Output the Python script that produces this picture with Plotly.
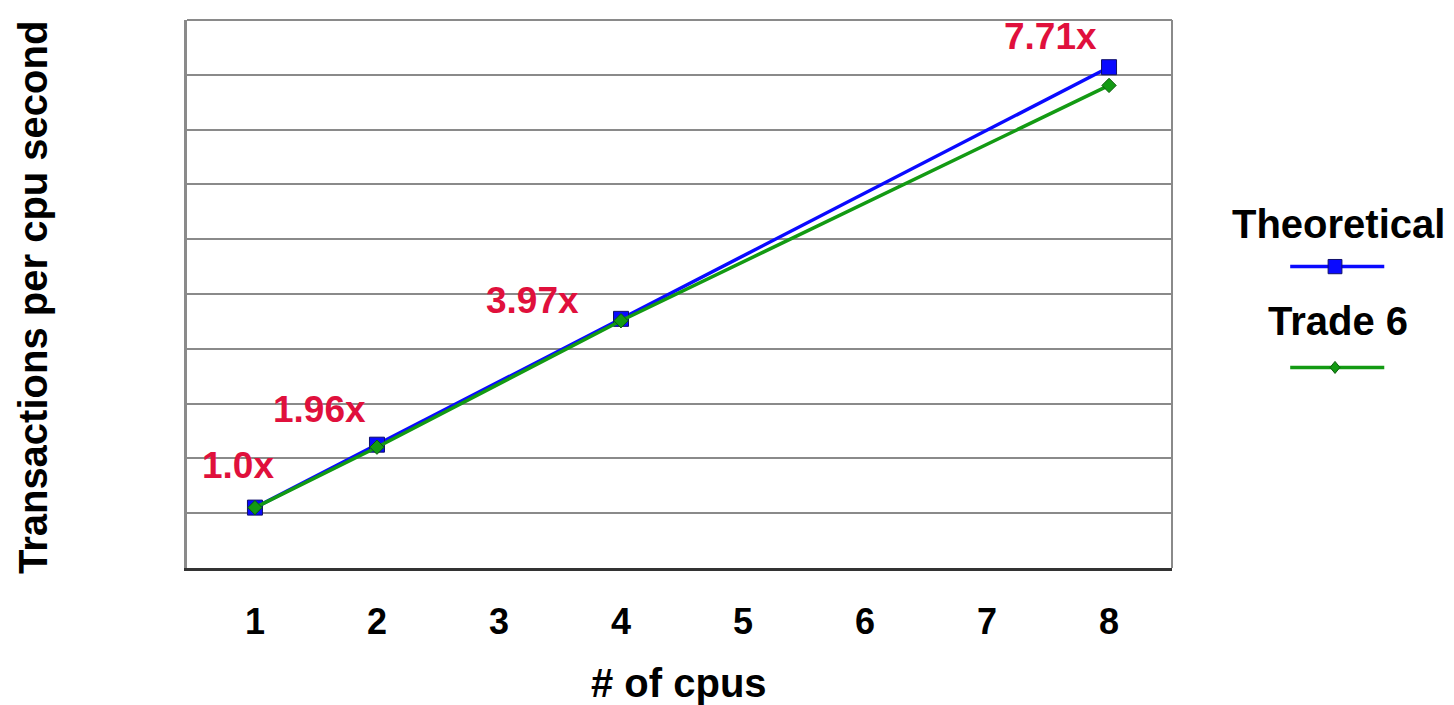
import plotly.graph_objects as go

# CPU scaling data
cpus = [1, 2, 4, 8]
theoretical = [1.0, 2.0, 4.0, 8.0]
trade6 = [1.0, 1.96, 3.97, 7.71]
speedup_labels = ["1.0x", "1.96x", "3.97x", "7.71x"]
x_ticks = [1, 2, 3, 4, 5, 6, 7, 8]

BLUE = "#0a0aff"
GREEN = "#139a13"
RED = "#e0103c"
FONT = "Liberation Sans, Arial, sans-serif"

fig = go.Figure()

fig.add_trace(go.Scatter(
    x=cpus, y=theoretical, mode="lines+markers", name="Theoretical",
    line=dict(color=BLUE, width=3.5),
    marker=dict(symbol="square", size=15, color=BLUE,
                line=dict(color="#10106a", width=1)),
    showlegend=False,
))
fig.add_trace(go.Scatter(
    x=cpus, y=trade6, mode="lines+markers", name="Trade 6",
    line=dict(color=GREEN, width=3.5),
    marker=dict(symbol="diamond", size=11, color=GREEN,
                line=dict(color="#0b5a0b", width=1)),
    showlegend=False,
))

# speedup labels next to the Trade 6 points
shifts = [(-17, 42), (-57, 38), (-89, 20), (-59, 49)]
for xv, yv, txt, (dx, dy) in zip(cpus, trade6, speedup_labels, shifts):
    fig.add_annotation(x=xv, y=yv, text=txt, showarrow=False,
                       xshift=dx, yshift=dy,
                       font=dict(family=FONT, size=37, color=RED, weight="bold"))

# axis titles
fig.add_annotation(xref="paper", yref="paper", x=-0.157, y=0.495,
                   text="Transactions per cpu second", textangle=-90,
                   showarrow=False, xanchor="center", yanchor="middle",
                   font=dict(family=FONT, size=40, color="black", weight="bold"))
fig.add_annotation(xref="paper", yref="paper", x=0.499, y=-0.21,
                   text="# of cpus", showarrow=False,
                   xanchor="center", yanchor="middle",
                   font=dict(family=FONT, size=40, color="black", weight="bold"))

# legend drawn on the right: title text above a line sample
leg_x = 1.169
for name, ty, ly, color in [("Theoretical", 0.628, 0.55, BLUE),
                            ("Trade 6", 0.451, 0.366, GREEN)]:
    fig.add_annotation(xref="paper", yref="paper", x=leg_x, y=ty, text=name,
                       showarrow=False, xanchor="center", yanchor="middle",
                       font=dict(family=FONT, size=40, color="black", weight="bold"))
    fig.add_shape(type="line", xref="paper", yref="paper",
                  x0=1.12, x1=1.2155, y0=ly, y1=ly,
                  line=dict(color=color, width=3.5))

# legend markers (square and diamond)
fig.add_shape(type="rect", xref="paper", yref="paper",
              x0=1.1585, x1=1.1725, y0=0.537, y1=0.563,
              fillcolor=BLUE, line=dict(color="#10106a", width=1))
fig.add_shape(type="path", xref="paper", yref="paper",
              path="M 1.1655 0.377 L 1.1705 0.366 L 1.1655 0.355 L 1.1605 0.366 Z",
              fillcolor=GREEN, line=dict(color="#0b5a0b", width=1))

# plot frame: top and right borders
fig.add_shape(type="line", xref="paper", yref="paper", x0=0, x1=1, y0=1, y1=1,
              line=dict(color="#8a8a8a", width=2))
fig.add_shape(type="line", xref="paper", yref="paper", x0=1, x1=1, y0=0, y1=1,
              line=dict(color="#8a8a8a", width=2))

fig.update_layout(
    width=1454, height=705,
    margin=dict(l=187, r=282, t=20, b=137),
    paper_bgcolor="white", plot_bgcolor="white",
    xaxis=dict(
        range=[0.443, 8.516], tickvals=x_ticks, ticktext=[str(v) for v in x_ticks],
        showgrid=False, zeroline=False, showline=True,
        linecolor="#333333", linewidth=3, ticks="",
        ticklabelstandoff=20,
        tickfont=dict(family=FONT, size=36, color="black", weight="bold"),
    ),
    yaxis=dict(
        range=[0.04, 8.75], tick0=0.04, dtick=0.871,
        showticklabels=False, ticks="",
        showgrid=True, gridcolor="#8a8a8a", gridwidth=1.5,
        zeroline=False, showline=True, linecolor="#8a8a8a", linewidth=3,
    ),
)

fig.write_html("out.html")
